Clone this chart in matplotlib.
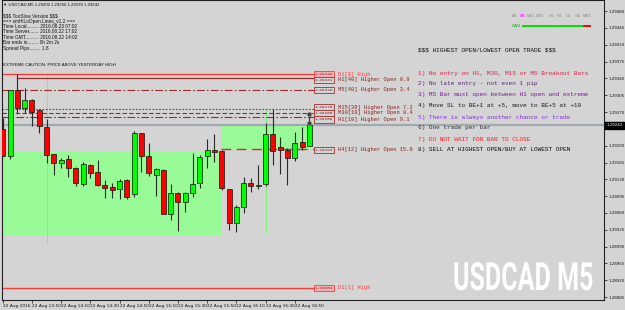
import matplotlib
matplotlib.use("Agg")
import matplotlib.pyplot as plt
from matplotlib.patches import Rectangle
from matplotlib.patheffects import AbstractPathEffect
from matplotlib.transforms import Affine2D

plt.rcParams["text.parse_math"] = False

# ---------------- data ----------------
chart_title = "\u25BC USDCAD,M5 1.29200 1.29266 1.29199 1.29242"

bar_open = [1.29234, 1.29178, 1.29316, 1.29278, 1.29295, 1.29274, 1.29239, 1.29182, 1.29164, 1.29172,
            1.29153, 1.29120, 1.29160, 1.29145, 1.29118, 1.29114, 1.29110, 1.29128, 1.29099, 1.29226,
            1.29178, 1.29139, 1.29149, 1.29058, 1.29101, 1.29083, 1.29101, 1.29122, 1.29178, 1.29191,
            1.29189, 1.29110, 1.29039, 1.29072, 1.29122, 1.29116, 1.29120, 1.29224, 1.29197, 1.29191,
            1.29174, 1.29207, 1.29200]
bar_high = [1.29257, 1.29316, 1.29349, 1.29320, 1.29297, 1.29276, 1.29255, 1.29182, 1.29174, 1.29180,
            1.29155, 1.29166, 1.29162, 1.29170, 1.29128, 1.29122, 1.29130, 1.29130, 1.29230, 1.29226,
            1.29205, 1.29153, 1.29151, 1.29120, 1.29103, 1.29103, 1.29185, 1.29180, 1.29214, 1.29224,
            1.29191, 1.29110, 1.29076, 1.29135, 1.29133, 1.29160, 1.29247, 1.29276, 1.29218, 1.29195,
            1.29228, 1.29239, 1.29266]
bar_low = [1.29178, 1.29172, 1.29268, 1.29268, 1.29241, 1.29226, 1.29164, 1.29139, 1.29153, 1.29135,
           1.29116, 1.29116, 1.29133, 1.29116, 1.29091, 1.29091, 1.29089, 1.29089, 1.29093, 1.29145,
           1.29137, 1.29095, 1.29058, 1.29045, 1.29022, 1.29062, 1.29093, 1.29112, 1.29153, 1.29166,
           1.29108, 1.29024, 1.29020, 1.29060, 1.29103, 1.29110, 1.29116, 1.29160, 1.29141, 1.29118,
           1.29168, 1.29191, 1.29199]
bar_close = [1.29178, 1.29316, 1.29278, 1.29295, 1.29270, 1.29241, 1.29180, 1.29164, 1.29170, 1.29153,
             1.29122, 1.29162, 1.29143, 1.29118, 1.29112, 1.29108, 1.29126, 1.29093, 1.29226, 1.29178,
             1.29143, 1.29151, 1.29058, 1.29101, 1.29083, 1.29101, 1.29120, 1.29176, 1.29191, 1.29187,
             1.29112, 1.29039, 1.29072, 1.29122, 1.29116, 1.29119, 1.29224, 1.29189, 1.29191, 1.29174,
             1.29205, 1.29197, 1.29242]

time_tick_bars = [0, 4, 8, 12, 16, 20, 24, 28, 32, 36, 40]
time_tick_labels = ["22 Aug 2016", "22 Aug 13:50", "22 Aug 14:10", "22 Aug 14:30", "22 Aug 14:50",
                    "22 Aug 15:10", "22 Aug 15:30", "22 Aug 15:50", "22 Aug 16:10", "22 Aug 16:30",
                    "22 Aug 16:50"]

price_ticks = [1.29480, 1.29445, 1.29410, 1.29375, 1.29340, 1.29305, 1.29270, 1.29200, 1.29165,
               1.29130, 1.29095, 1.29060, 1.29025, 1.28990, 1.28955, 1.28920, 1.28885]

level_names = ["D1[0] High", "H1[40] Higher Open 0.9", "M5[40] Higher Open 3.4",
               "M15[39] Higher Open 7.2", "M30[19] Higher Open 8.4", "H1[10] Higher Open 9.1",
               "H4[12] Higher Open 15.9", "D1[1] High"]
level_prices = [1.29349, 1.29341, 1.29316, 1.29276, 1.29268, 1.29259, 1.29193, 1.28904]
level_start_bar = [-0.1, 2, -0.1, -0.1, -0.1, -0.1, 29.9, -0.1]

zone_x0 = [-0.1, 29.9]
zone_x1 = [29.9, 42.2]
zone_y0 = [1.29014, 1.29191]
zone_y1 = [1.29187, 1.29241]

sep_bars = [6, 36]
sep_low = [1.28997, 1.29020]
sep_high = [1.29349, 1.29274]

marker_prices = [1.29266, 1.29247]
current_price = 1.29242

info_lines = ["$$$ TooSlow Version $$$",
              "=== smHiLoOpen Lines_v1.2 ===",
              "Time Local......... 2016.08.23 07:02",
              "Time Server....... 2016.08.22 17:02",
              "Time GMT.......... 2016.08.22 14:02",
              "Bar ends in........ 0h 2m 2s",
              "Spread Pips........ 1.8"]
caution_text = "EXTREME CAUTION: PRICE ABOVE YESTERDAY HIGH"

rules = ["$$$ HIGHEST OPEN/LOWEST OPEN TRADE $$$",
         "1) No entry on H1, M30, M15 or M5 Breakout Bars",
         "2) No late entry - not even 1 pip",
         "3) M5 Bar must open between H1 open and extreme",
         "4) Move SL to BE+1 at +5, move to BE+5 at +10",
         "5) There is always another chance or trade",
         "6) One trade per bar",
         "7) DO NOT WAIT FOR BAR TO CLOSE",
         "8) SELL AT HIGHEST OPEN/BUY AT LOWEST OPEN"]
rule_colors = ["#101010", "#e0204a", "#5a2a70", "#7a1aa0", "#1a1a1a", "#8a2be2", "#303030",
               "#ff1a1a", "#101010"]

tf_names = ["M1", "M5", "M15", "M30", "H1", "H4", "D1", "W1", "MN1"]
tf_colors = ["#8a8a8a", "#ff00ff", "#8a8a8a", "#8a8a8a", "#8a8a8a", "#8a8a8a", "#8a8a8a",
             "#8a8a8a", "#8a8a8a"]
tf_state_colors = ["#00e000"] * 8 + ["#ff0000"]

watermark = "USDCAD M5"

# ---------------- layout helpers ----------------
W, H = 625, 310
BG = "#d4d4d4"


def fx(px):
    return px / W


def fy(py):
    return 1 - py / H


class Stretch(AbstractPathEffect):
    """Scale glyph outlines around a display-space anchor point."""

    def __init__(self, sx, sy, x0, y0):
        super().__init__()
        self.sx, self.sy, self.x0, self.y0 = sx, sy, x0, y0

    def draw_path(self, renderer, gc, tpath, affine, rgbFace=None):
        aff = affine + Affine2D().translate(-self.x0, -self.y0).scale(self.sx, self.sy) \
            .translate(self.x0, self.y0)
        renderer.draw_path(gc, tpath, aff, rgbFace)


fig = plt.figure(figsize=(W / 100, H / 100), dpi=100, facecolor=BG)
ax = fig.add_axes([fx(2), 10 / H, (604 - 2) / W, 300 / H])
ax.set_facecolor(BG)

PX_PER_BAR = 7.30
x_left = -0.1
x_right = x_left + (604 - 2) / PX_PER_BAR
ax.set_xlim(x_left, x_right)
ax.set_ylim(1.28879, 1.29503)

# zones
for x0, x1, y0, y1 in zip(zone_x0, zone_x1, zone_y0, zone_y1):
    ax.add_patch(Rectangle((x0, y0), x1 - x0, y1 - y0, facecolor="#98fb98", edgecolor="none", zorder=1))

# separators
for b, lo, hi in zip(sep_bars, sep_low, sep_high):
    ax.plot([b, b], [lo, hi], color="#7ef07e", lw=0.7, zorder=1.5)

# bid line
ax.axhline(current_price, color="#a2a8b0", lw=1.6, zorder=1.6)

# level lines
line_end = 42.65
box_x = 42.75
text_x = 45.9
styles = [("-", "#ff3a3a", 1.0), ("-", "#9a2a2a", 0.9), ((0, (7, 2, 1.5, 2)), "#9a2a2a", 0.8),
          ((0, (1.5, 1.5)), "#9a2a2a", 0.8), ((0, (4, 2)), "#9a2a2a", 0.8),
          ((0, (7, 2, 1.5, 2)), "#9a2a2a", 0.8), ((0, (7, 4)), "#c03434", 1.0), ("-", "#ff3a3a", 1.0)]
text_dy = [0, 1.5, 0, -1.5, 0, 1.5, 0.5, 0]
for name, p, xs, (ls, col, lw), dy in zip(level_names, level_prices, level_start_bar, styles, text_dy):
    ax.plot([xs, line_end], [p, p], ls=ls, color=col, lw=lw, zorder=2)
    is_d1 = name.startswith("D1")
    ax.annotate(f"{p:.5f}", (box_x, p), xytext=(0, -dy), textcoords="offset points",
                fontsize=3.2, family="Liberation Mono", va="center", ha="left",
                color="#d01818" if is_d1 else "#8a2020", zorder=6,
                bbox=dict(boxstyle="square,pad=0.25", fc="#eeb0b0" if is_d1 else BG,
                          ec="#ff3a3a" if is_d1 else "#a03030", lw=0.6))
    ax.annotate(name, (text_x, p), xytext=(0, -dy), textcoords="offset points",
                fontsize=3.9, family="Liberation Mono", va="center", ha="left",
                color="#ff3a3a" if is_d1 else "#8a2020", zorder=6)

# candles
body_w = 0.68
for i, (o, h, l, c) in enumerate(zip(bar_open, bar_high, bar_low, bar_close)):
    ax.plot([i, i], [l, h], color="#2a2a2a", lw=0.8, zorder=3, solid_capstyle="butt")
    bot = min(o, c)
    hgt = max(abs(c - o), 0.000025)
    ax.add_patch(Rectangle((i - body_w / 2, bot), body_w, hgt,
                           facecolor="#00ff00" if c >= o else "#ff0000",
                           edgecolor="#111111", lw=0.5, zorder=4))

# markers on last bar
ax.plot([len(bar_close) - 1] * len(marker_prices), marker_prices, "o", ms=3.2,
        mfc="#3c3c3c", mec="#9a9a9a", mew=0.5, zorder=5, ls="none")

# axes styling
ax.set_xticks(time_tick_bars)
ax.set_xticklabels(time_tick_labels)
for t in ax.get_xticklabels():
    t.set_ha("left")
ax.tick_params(axis="x", direction="out", length=2, width=0.5, pad=1, labelsize=3.1,
               colors="#111111")
ax.yaxis.tick_right()
ax.set_yticks(price_ticks)
ax.set_yticklabels([f"{v:.5f}" for v in price_ticks])
ax.tick_params(axis="y", direction="out", length=2, width=0.5, pad=1.5, labelsize=2.9,
               colors="#111111")
for s in ax.spines.values():
    s.set_color("#202020")
    s.set_linewidth(0.8)

# current price box on axis
ax.annotate(f"{current_price:.5f}", (1.0, current_price), xycoords=("axes fraction", "data"),
            xytext=(1.5, 0), textcoords="offset points", fontsize=2.9, color="white",
            va="center", ha="left", zorder=7, annotation_clip=False,
            bbox=dict(boxstyle="square,pad=0.3", fc="black", ec="black"))

# top-left texts
fig.text(fx(3), fy(5), chart_title, fontsize=3.1, family=["Liberation Sans", "DejaVu Sans"],
         va="center", ha="left", color="#111111")
for k, line in enumerate(info_lines):
    fig.text(fx(3), fy(15.7 + 5.4 * k), line, fontsize=3.4, family="Liberation Sans",
             va="center", ha="left", color="#111111")
fig.text(fx(3), fy(65), caution_text, fontsize=3.2, family="Liberation Sans",
         va="center", ha="left", color="#111111")

# rules block
rule_y = [50, 73, 84, 95, 106, 117, 128, 139, 150]
for txt, col, py in zip(rules, rule_colors, rule_y):
    fig.text(fx(418), fy(py), txt, fontsize=4.4, family="Liberation Mono", va="center",
             ha="left", color=col)

# timeframe status panel
tf_x = [514, 522, 531, 540, 551, 559, 568, 578, 587]
for name, col, px in zip(tf_names, tf_colors, tf_x):
    fig.text(fx(px), fy(16), name, fontsize=3.0, family="Liberation Sans", va="center",
             ha="center", color=col)
for k, col in enumerate(tf_state_colors):
    cx = 526.2 + 7.6 * k
    fig.add_artist(plt.Line2D([fx(cx - 2.8), fx(cx + 2.8)], [fy(26), fy(26)], color=col, lw=1.4))
fig.text(fx(521), fy(26), "CAN", fontsize=3.1, family="Liberation Sans", va="center",
         ha="right", color="#00b000")

# watermark (real text; glyph outlines scaled to the condensed look of the original)
wm_left_px, wm_base_px = 453, 290
fig.text(fx(wm_left_px), fy(wm_base_px), watermark, fontsize=14, fontweight="bold",
         family="Roboto", color="white", ha="left", va="baseline",
         path_effects=[Stretch(1.29, 2.0, wm_left_px, H - wm_base_px)])

fig.savefig("out.png", dpi=100, facecolor=BG)
